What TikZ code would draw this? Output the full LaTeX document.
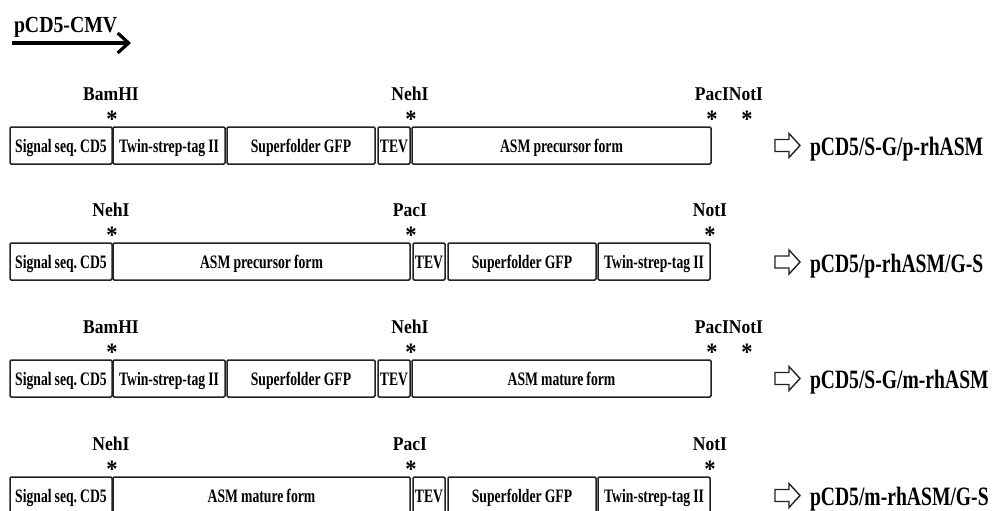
\documentclass[tikz,border=0pt]{standalone}
\usepackage{fontspec}
\newfontfamily\bxfont{Liberation Serif}[FakeStretch=0.72, WordSpace=0.9]
\newfontfamily\lbfont{Liberation Serif}[FakeStretch=0.9]
\newfontfamily\rsfont{Liberation Serif}[FakeStretch=0.74]
\newfontfamily\ttlfont{Liberation Serif}[FakeStretch=0.86]
\usetikzlibrary{arrows.meta}
\frenchspacing
\definecolor{ink}{HTML}{222222}
\tikzset{
  seg/.style={draw=ink, line width=1.5pt, rounded corners=1.2pt, fill=white,
    minimum height=37pt, inner sep=0pt, outer sep=0pt,
    text height=13pt, text depth=0pt,
    font=\bxfont\bfseries\fontsize{19}{20}\selectfont},
  lab/.style={inner sep=0pt, outer sep=0pt, anchor=base,
    font=\lbfont\bfseries\fontsize{19.5}{20}\selectfont},
  star/.style={inner sep=0pt, outer sep=0pt, anchor=base,
    font=\lbfont\bfseries\fontsize{25}{26}\selectfont},
  res/.style={inner sep=0pt, outer sep=0pt, anchor=base west,
    font=\rsfont\bfseries\fontsize{26.5}{27}\selectfont},
  ttl/.style={inner sep=0pt, outer sep=0pt, anchor=base west,
    font=\ttlfont\bfseries\fontsize{23}{24}\selectfont},
  hollow/.style={draw=ink, line width=1.4pt, line join=miter, fill=white}
}
% \mkseg{name}{x0}{x1}{top}{text}
\newcommand\mkseg[5]{\node[seg, minimum width={#3-#2}] (#1) at ({(#2+#3)/2},{#4+18.5}) {#5};}
% \mkarrow{yc}
\newcommand\mkarrow[1]{\draw[hollow] (775,{#1-6}) -- (789,{#1-6}) -- (789,{#1-12}) -- (800,{#1}) -- (789,{#1+12}) -- (789,{#1+6}) -- (775,{#1+6}) -- cycle;}
\begin{document}
\begin{tikzpicture}[x=1pt, y=-1pt]
\useasboundingbox (0,0) rectangle (994,511);
% title arrow
\node[ttl] (title) at (14,33) {pCD5-CMV};
\coordinate (ts) at (12,43);
\coordinate (te) at (131,43);
\draw[line width=3.2pt, -{Straight Barb[length=11pt,width=20pt]}] (ts) -- (te);

% ---------- Row 1 (top 127) ----------
\mkseg{a1}{10}{112}{127}{Signal seq. CD5}
\mkseg{a2}{113}{225}{127}{Twin-strep-tag II}
\mkseg{a3}{227}{375}{127}{Superfolder GFP}
\mkseg{a4}{378}{410}{127}{TEV}
\mkseg{a5}{412}{711}{127}{ASM precursor form}
\node[lab] (a1l) at (111,100) {BamHI};
\node[star] (a1s) at (112,127.5) {*};
\node[lab] (a2l) at (410,100) {NehI};
\node[star] (a2s) at (411,127.5) {*};
\node[lab] (a3l) at (712,100) {PacI};
\node[star] (a3s) at (712,127.5) {*};
\node[lab] (a4l) at (746,100) {NotI};
\node[star] (a4s) at (747,127.5) {*};
\mkarrow{145.5}
\node[res] (an) at (810,155.5) {pCD5/S-G/p-rhASM};

% ---------- Row 2 (top 243) ----------
\mkseg{b1}{10}{112}{243}{Signal seq. CD5}
\mkseg{b2}{113}{410}{243}{ASM precursor form}
\mkseg{b3}{413}{445}{243}{TEV}
\mkseg{b4}{448}{596}{243}{Superfolder GFP}
\mkseg{b5}{598}{710}{243}{Twin-strep-tag II}
\node[lab] (b1l) at (111,216) {NehI};
\node[star] (b1s) at (112,243.5) {*};
\node[lab] (b2l) at (410,216) {PacI};
\node[star] (b2s) at (411,243.5) {*};
\node[lab] (b3l) at (710,216) {NotI};
\node[star] (b3s) at (710,243.5) {*};
\mkarrow{262}
\node[res] (bn) at (810,272) {pCD5/p-rhASM/G-S};

% ---------- Row 3 (top 360) ----------
\mkseg{c1}{10}{112}{360}{Signal seq. CD5}
\mkseg{c2}{113}{225}{360}{Twin-strep-tag II}
\mkseg{c3}{227}{375}{360}{Superfolder GFP}
\mkseg{c4}{378}{410}{360}{TEV}
\mkseg{c5}{412}{711}{360}{ASM mature form}
\node[lab] (c1l) at (111,333) {BamHI};
\node[star] (c1s) at (112,360.5) {*};
\node[lab] (c2l) at (410,333) {NehI};
\node[star] (c2s) at (411,360.5) {*};
\node[lab] (c3l) at (712,333) {PacI};
\node[star] (c3s) at (712,360.5) {*};
\node[lab] (c4l) at (746,333) {NotI};
\node[star] (c4s) at (747,360.5) {*};
\mkarrow{378.5}
\node[res] (cn) at (810,388.5) {pCD5/S-G/m-rhASM};

% ---------- Row 4 (top 477) ----------
\mkseg{d1}{10}{112}{477}{Signal seq. CD5}
\mkseg{d2}{113}{410}{477}{ASM mature form}
\mkseg{d3}{413}{445}{477}{TEV}
\mkseg{d4}{448}{596}{477}{Superfolder GFP}
\mkseg{d5}{598}{710}{477}{Twin-strep-tag II}
\node[lab] (d1l) at (111,450) {NehI};
\node[star] (d1s) at (112,477.5) {*};
\node[lab] (d2l) at (410,450) {PacI};
\node[star] (d2s) at (411,477.5) {*};
\node[lab] (d3l) at (710,450) {NotI};
\node[star] (d3s) at (710,477.5) {*};
\mkarrow{495.5}
\node[res] (dn) at (810,505.5) {pCD5/m-rhASM/G-S};
\end{tikzpicture}
\end{document}
